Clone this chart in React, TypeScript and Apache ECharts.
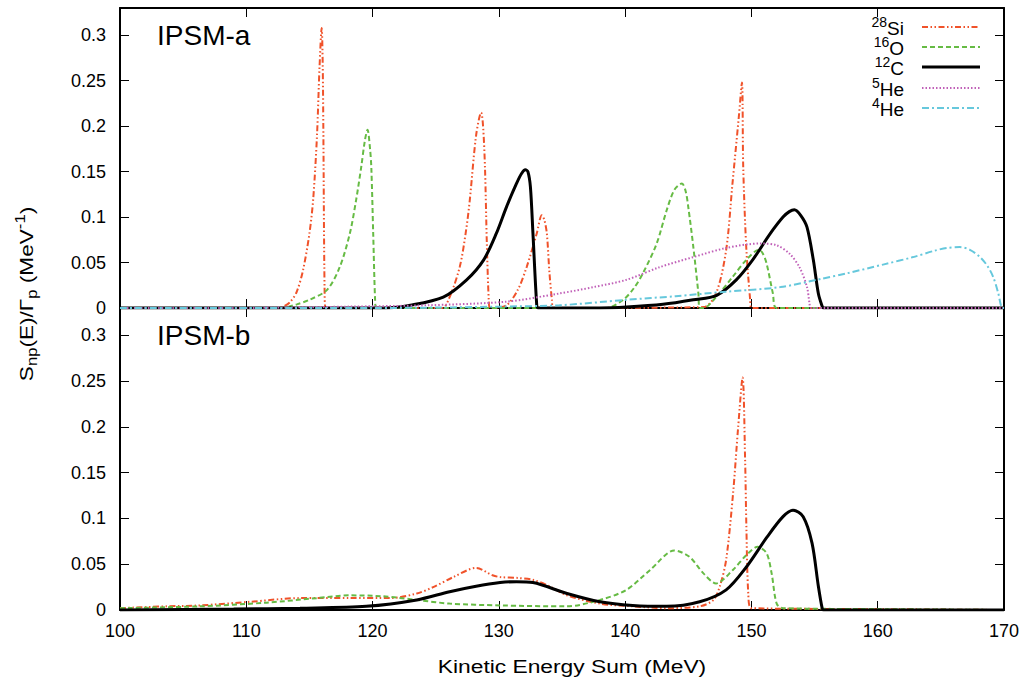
import React, { useEffect, useRef } from "react";
import * as echarts from "echarts";

type P = [number, number];

// ---------- data ----------
const xTicks = [100, 110, 120, 130, 140, 150, 160, 170];
const yTicks = [0, 0.05, 0.1, 0.15, 0.2, 0.25, 0.3];
const panelNames = ["IPSM-a", "IPSM-b"];
const seriesNames = ["28Si", "16O", "12C", "5He", "4He"];

// IPSM-a
const siA: P[] = [
  [100, 0], [112.5, 0], [113, 0.002], [113.5, 0.007], [114, 0.018], [114.5, 0.042], [115, 0.082],
  [115.3, 0.12], [115.6, 0.19], [115.8, 0.265], [115.97, 0.308], [116.05, 0.27], [116.1, 0.2],
  [116.2, 0.02], [116.3, 0],
  [125.5, 0], [126.1, 0.012], [126.9, 0.045], [127.4, 0.085], [127.7, 0.119], [128.2, 0.19],
  [128.6, 0.215], [128.75, 0.2], [128.9, 0.155], [129.05, 0.07], [129.2, 0.009], [129.3, 0],
  [130.6, 0.003], [131.5, 0.02], [132.2, 0.045], [133.0, 0.082], [133.4, 0.102], [133.6, 0.097],
  [133.8, 0.082], [134.0, 0.04], [134.2, 0.009], [134.3, 0],
  [146.2, 0.001], [147.2, 0.016], [148.0, 0.064], [148.5, 0.137], [149.0, 0.21], [149.25, 0.248],
  [149.35, 0.155], [149.6, 0.064], [149.9, 0.009], [150.0, 0], [170, 0],
];
const oA: P[] = [
  [100, 0], [112.5, 0], [113.2, 0.001], [114, 0.004], [115, 0.009], [116.4, 0.02], [117.4, 0.045],
  [118.2, 0.082], [118.7, 0.119], [119.1, 0.155], [119.4, 0.185], [119.6, 0.196], [119.8, 0.175],
  [119.9, 0.155], [120.05, 0.082], [120.2, 0.009], [120.3, 0],
  [138.5, 0], [139.85, 0.009], [140.7, 0.022], [141.4, 0.038], [142.5, 0.071], [143.3, 0.108],
  [143.9, 0.13], [144.5, 0.137], [144.8, 0.128], [145.0, 0.111], [145.4, 0.067], [145.8, 0.016],
  [145.9, 0], [146.2, 0], [147.2, 0.012], [148.5, 0.034], [149.6, 0.053], [150.6, 0.064],
  [150.9, 0.06], [151.2, 0.049], [151.7, 0.016], [152.0, 0], [170, 0],
];
const cA: P[] = [
  [100, 0], [121, 0], [123.0, 0.003], [125.6, 0.012], [127.45, 0.031], [128.8, 0.053], [129.8, 0.082],
  [130.6, 0.111], [131.4, 0.137], [131.8, 0.148], [132.1, 0.152], [132.3, 0.15], [132.5, 0.133],
  [132.7, 0.082], [133.0, 0.003], [133.1, 0],
  [138, 0], [140.1, 0.001], [143, 0.004], [145.4, 0.009], [147.25, 0.014], [148.8, 0.031],
  [150.1, 0.053], [151.5, 0.082], [152.5, 0.1], [153.0, 0.106], [153.4, 0.108], [153.9, 0.102],
  [154.4, 0.089], [154.9, 0.053], [155.3, 0.016], [155.6, 0.002], [155.7, 0], [170, 0],
];
const he5A: P[] = [
  [100, 0], [110, 0], [113, 0.0005], [118, 0.0015], [124.3, 0.003], [130.6, 0.007], [134.8, 0.016],
  [137.5, 0.023], [140.1, 0.031], [142.75, 0.045], [145.4, 0.056], [148.0, 0.066], [150.7, 0.071],
  [152.0, 0.069], [153.0, 0.06], [153.8, 0.045], [154.4, 0.023], [154.6, 0.005], [154.7, 0], [170, 0],
];
const he4A: P[] = [
  [100, 0], [120, 0], [125, 0.0005], [130, 0.0015], [134.8, 0.003], [140.1, 0.009], [144, 0.013],
  [148.0, 0.018], [152.3, 0.023], [155.5, 0.032], [157.5, 0.038], [160.5, 0.048], [162.8, 0.056],
  [164.5, 0.063], [165.45, 0.066], [166.5, 0.067], [167.3, 0.064], [168.1, 0.056], [168.7, 0.046],
  [169.15, 0.034], [169.55, 0.016], [169.8, 0.001], [170, 0],
];

// IPSM-b
const siB: P[] = [
  [100, 0.002], [103.7, 0.004], [106.3, 0.005], [110.3, 0.009], [114.25, 0.013], [118.2, 0.013],
  [121.4, 0.013], [123.5, 0.018], [124.8, 0.025], [126.4, 0.036], [128.2, 0.046], [129.5, 0.038],
  [130.1, 0.036], [131.5, 0.035], [132.7, 0.033], [134.0, 0.026], [135.4, 0.016], [138.0, 0.007],
  [140.6, 0.004], [143.3, 0.002], [145.9, 0.004], [147.0, 0.011], [147.5, 0.026], [148.0, 0.055],
  [148.55, 0.128], [148.95, 0.2], [149.3, 0.254], [149.5, 0.164], [149.6, 0.091], [149.75, 0.018],
  [150.0, 0.002], [160, 0.001], [170, 0],
];
const oB: P[] = [
  [100, 0.002], [106.3, 0.004], [111.6, 0.008], [115.6, 0.013], [118.2, 0.016], [120.8, 0.015],
  [123.5, 0.011], [126.1, 0.007], [130.1, 0.005], [135.4, 0.004], [138.0, 0.011], [140.1, 0.022],
  [142.0, 0.044], [143.9, 0.065], [145.1, 0.058], [146.2, 0.04], [147.2, 0.029], [148.55, 0.044],
  [149.6, 0.06], [150.5, 0.069], [151.2, 0.062], [151.6, 0.04], [152.0, 0.007], [152.5, 0.002],
  [160, 0.001], [170, 0],
];
const cB: P[] = [
  [100, 0], [109.0, 0.001], [114.25, 0.002], [119.5, 0.004], [123.5, 0.011], [126.1, 0.02],
  [128.2, 0.026], [130.1, 0.03], [131.4, 0.031], [132.7, 0.03], [135.4, 0.018], [138.0, 0.009],
  [140.6, 0.005], [143.3, 0.004], [145.9, 0.009], [148.0, 0.022], [149.6, 0.047], [151.2, 0.079],
  [152.5, 0.102], [153.3, 0.109], [154.1, 0.102], [154.8, 0.073], [155.3, 0.026], [155.6, 0.002],
  [155.7, 0], [170, 0],
];

// ---------- styles ----------
const FONT = "'Liberation Sans', Arial, Helvetica, sans-serif";
const styles = [
  { color: "#f0522a", width: 2, dash: [6, 2.5, 1.5, 2.5, 1.5, 2.5] },
  { color: "#66bb44", width: 2, dash: [5, 3] },
  { color: "#000000", width: 3, dash: "solid" as any },
  { color: "#c060b8", width: 2, dash: [1.5, 2] },
  { color: "#66c8dc", width: 2, dash: [7, 3, 2, 3] },
];

export default function App() {
  const ref = useRef<HTMLDivElement>(null);
  useEffect(() => {
    if (!ref.current) return;
    const chart = echarts.init(ref.current, undefined, { renderer: "svg" });
    const L = 120, R = 22;
    const xMin = xTicks[0], xMax = xTicks[xTicks.length - 1];
    const yMax = 0.33;
    const tick = { show: true, inside: true, length: 9, lineStyle: { color: "#000", width: 1 } };
    const line = { show: true, onZero: false, lineStyle: { color: "#000", width: 2 } };
    const mkX = (grid: number, pos: "top" | "bottom", labels: boolean) => ({
      type: "value", gridIndex: grid, position: pos, min: xMin, max: xMax, interval: 10,
      axisLine: line, axisTick: tick, splitLine: { show: false },
      axisLabel: { show: labels, margin: 12, fontSize: 18, color: "#000", fontFamily: FONT },
    });
    const mkY = (grid: number, pos: "left" | "right", labels: boolean) => ({
      type: "value", gridIndex: grid, position: pos, min: 0, max: yMax, interval: 0.05,
      axisLine: line, axisTick: tick, splitLine: { show: false },
      axisLabel: {
        show: labels, margin: 14, fontSize: 18, color: "#000", fontFamily: FONT, showMaxLabel: false,
        formatter: (v: number) => String(+v.toFixed(2)),
      },
    });
    const sets = [[siA, oA, cA, he5A, he4A], [siB, oB, cB]];
    const series: any[] = [];
    sets.forEach((arr, g) => {
      arr.forEach((d, i) => {
        series.push({
          type: "line", name: seriesNames[i] + (g ? "-b" : "-a"), data: d,
          xAxisIndex: g * 2, yAxisIndex: g * 2, showSymbol: false, symbol: "none",
          smooth: 0.3, clip: true,
          lineStyle: { color: styles[i].color, width: styles[i].width, type: styles[i].dash },
          z: 3 + i,
        });
      });
    });
    const supNames = [["28", "Si"], ["16", "O"], ["12", "C"], ["5", "He"], ["4", "He"]];
    const legendY = [27, 47, 67, 88, 108];
    const legend: any[] = [];
    supNames.forEach((s, i) => {
      legend.push({
        type: "text", x: 904, y: legendY[i] + 1, z: 100,
        style: {
          text: `{sup|${s[0]}}{n|${s[1]}}`, align: "right", verticalAlign: "middle",
          rich: {
            sup: { fontSize: 14, lineHeight: 14, verticalAlign: "top", fontFamily: FONT, fill: "#000" },
            n: { fontSize: 19, lineHeight: 26, verticalAlign: "middle", fontFamily: FONT, fill: "#000" },
          },
        },
      });
      legend.push({
        type: "line", z: 100,
        shape: { x1: 922, y1: legendY[i], x2: 980, y2: legendY[i] },
        style: {
          stroke: styles[i].color, lineWidth: i === 2 ? 3 : 2,
          lineDash: styles[i].dash === "solid" ? null : styles[i].dash,
        },
      });
    });
    const option: any = {
      animation: false,
      backgroundColor: "#fff",
      grid: [
        { left: L, right: R, top: 8, height: 300 },
        { left: L, right: R, top: 308, height: 302 },
      ],
      xAxis: [mkX(0, "bottom", false), mkX(0, "top", false), mkX(1, "bottom", true), mkX(1, "top", false)],
      yAxis: [mkY(0, "left", true), mkY(0, "right", false), mkY(1, "left", true), mkY(1, "right", false)],
      series,
      graphic: [
        {
          type: "text", x: 157, y: 35, z: 100,
          style: { text: panelNames[0], fontSize: 28, fontFamily: FONT, fill: "#000", verticalAlign: "middle" },
        },
        {
          type: "text", x: 157, y: 335, z: 100,
          style: { text: panelNames[1], fontSize: 28, fontFamily: FONT, fill: "#000", verticalAlign: "middle" },
        },
        {
          type: "text", x: 572, y: 666, scaleX: 1.2, z: 100,
          style: {
            text: "Kinetic Energy Sum (MeV)", fontSize: 19, fontFamily: FONT, fill: "#000",
            align: "center", verticalAlign: "middle",
          },
        },
        {
          type: "text", x: 26, y: 294, rotation: Math.PI / 2, scaleX: 1.19, z: 100,
          style: {
            text: "{n|S}{sub|np}{n|(E)/Γ}{sub|p}{n| (MeV}{sup|-1}{n|)}",
            align: "center", verticalAlign: "middle",
            rich: {
              n: { fontSize: 19, lineHeight: 26, verticalAlign: "middle", fontFamily: FONT, fill: "#000" },
              sub: { fontSize: 14, lineHeight: 14, verticalAlign: "bottom", fontFamily: FONT, fill: "#000" },
              sup: { fontSize: 14, lineHeight: 14, verticalAlign: "top", fontFamily: FONT, fill: "#000" },
            },
          },
        },
        ...legend,
      ],
    };
    chart.setOption(option);
    return () => chart.dispose();
  }, []);
  return <div ref={ref} style={{ width: 1026, height: 679, position: "absolute", left: 0, top: 0 }} />;
}
